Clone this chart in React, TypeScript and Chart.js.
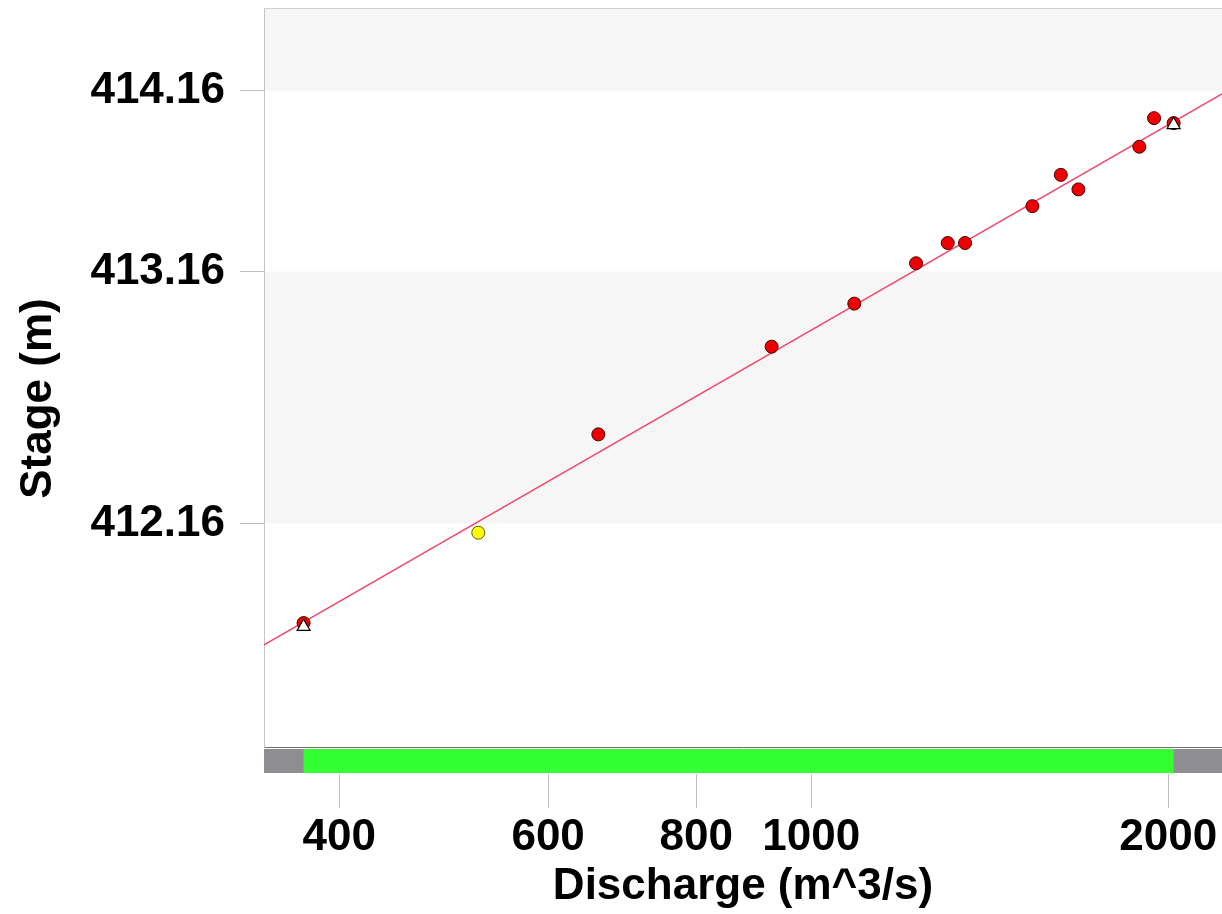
import React, { useEffect, useRef } from 'react';
import { Chart, registerables } from 'chart.js';

Chart.register(...registerables);

// Stage axis is logarithmic in (stage - offset)
const STAGE_OFFSET = 410.06;

const OBS_DISCHARGE = [373.2, 661.4, 926.0, 1087.2, 1225.7, 1303.5, 1348.0, 1536.3, 1623.5, 1679.9, 1890.9, 1945.6, 2021.0];
const OBS_STAGE = [411.86, 412.47, 412.82, 413.01, 413.2, 413.3, 413.3, 413.49, 413.66, 413.58, 413.82, 413.99, 413.96];

const OUTLIER_DISCHARGE = [523.9];
const OUTLIER_STAGE = [412.13];

const CONTROL_DISCHARGE = [373.2, 2021.0];
const CONTROL_STAGE = [411.85, 413.95];

const RATING_DISCHARGE = [345.6, 2220];
const RATING_STAGE = [411.8, 414.14];

const GAUGED_RANGE = [373.2, 2021.0];

const X_TICKS = [400, 600, 800, 1000, 2000];
const Y_TICKS = [412.16, 413.16, 414.16];
const X_RANGE = [345.6, 2220];
const Y_RANGE = [411.546, 414.72];

const FONT_FAMILY = '"Liberation Sans", Arial, Helvetica, sans-serif';

const toPoints = (xs: number[], ys: number[]) =>
  xs.map((q, i) => ({ x: q, y: ys[i] - STAGE_OFFSET }));

const decorPlugin = {
  id: 'decor',
  beforeDraw(chart: any) {
    const { ctx, chartArea: a, scales } = chart;
    const y = scales.y;
    const tickPx = Y_TICKS.map((t) => y.getPixelForValue(t - STAGE_OFFSET)).sort((p, q) => p - q);
    const edges = [a.top, ...tickPx, a.bottom];
    ctx.save();
    ctx.fillStyle = '#ffffff';
    ctx.fillRect(0, 0, chart.width, chart.height);
    ctx.fillStyle = '#f6f6f6';
    for (let i = 0; i < edges.length - 1; i += 2) {
      ctx.fillRect(a.left, edges[i], a.right - a.left, edges[i + 1] - edges[i]);
    }
    ctx.restore();
  },
  afterDraw(chart: any) {
    const { ctx, chartArea: a, scales } = chart;
    const x = scales.x;
    ctx.save();
    // top frame line
    ctx.strokeStyle = '#d0d0d0';
    ctx.lineWidth = 1;
    ctx.beginPath();
    ctx.moveTo(a.left, a.top + 0.5);
    ctx.lineTo(a.right, a.top + 0.5);
    ctx.stroke();

    // range bar
    const barTop = a.bottom + 2;
    const barH = 24;
    const x0 = x.getPixelForValue(GAUGED_RANGE[0]);
    const x1 = x.getPixelForValue(GAUGED_RANGE[1]);
    ctx.fillStyle = '#8d8d92';
    ctx.fillRect(a.left, barTop, a.right - a.left, barH);
    ctx.fillStyle = '#33ff33';
    ctx.fillRect(x0, barTop, x1 - x0, barH);

    // x tick marks below the bar
    ctx.strokeStyle = '#c0c0c0';
    ctx.lineWidth = 1;
    for (const t of X_TICKS) {
      const px = Math.round(x.getPixelForValue(t)) + 0.5;
      ctx.beginPath();
      ctx.moveTo(px, barTop + barH + 1);
      ctx.lineTo(px, a.bottom + 61);
      ctx.stroke();
    }

    // y axis title
    ctx.translate(39, (a.top + a.bottom) / 2 + 21);
    ctx.rotate(-Math.PI / 2);
    ctx.font = `bold 44px ${FONT_FAMILY}`;
    ctx.fillStyle = '#000000';
    ctx.textAlign = 'center';
    ctx.textBaseline = 'middle';
    ctx.fillText('Stage (m)', 0, 0);
    ctx.restore();
  },
};

export default function App() {
  const canvasRef = useRef<HTMLCanvasElement | null>(null);

  useEffect(() => {
    const canvas = canvasRef.current;
    if (!canvas) return;
    const font = { family: FONT_FAMILY, size: 44, weight: 'bold' as const };

    const chart = new Chart(canvas, {
      type: 'scatter',
      data: {
        datasets: [
          {
            label: 'Control points',
            data: toPoints(CONTROL_DISCHARGE, CONTROL_STAGE),
            pointStyle: 'triangle',
            pointRadius: 7.5,
            backgroundColor: '#ffffff',
            borderColor: '#000000',
            borderWidth: 1.2,
            order: 0,
          },
          {
            label: 'Excluded',
            data: toPoints(OUTLIER_DISCHARGE, OUTLIER_STAGE),
            pointRadius: 6.5,
            backgroundColor: '#ffff00',
            borderColor: '#5c5c00',
            borderWidth: 1,
            order: 1,
          },
          {
            label: 'Gaugings',
            data: toPoints(OBS_DISCHARGE, OBS_STAGE),
            pointRadius: 6.5,
            backgroundColor: '#ee0000',
            borderColor: '#4a0000',
            borderWidth: 1,
            order: 2,
          },
          {
            label: 'Rating curve',
            data: toPoints(RATING_DISCHARGE, RATING_STAGE),
            showLine: true,
            pointRadius: 0,
            borderColor: '#f2466b',
            borderWidth: 1.5,
            backgroundColor: '#f2466b',
            order: 3,
          } as any,
        ],
      },
      options: {
        responsive: false,
        animation: false,
        devicePixelRatio: 1,
        layout: { autoPadding: false, padding: { top: 8, left: 0, right: 0, bottom: 0 } },
        plugins: {
          legend: { display: false },
          tooltip: { enabled: false },
        },
        scales: {
          x: {
            type: 'logarithmic',
            position: 'bottom',
            min: X_RANGE[0],
            max: X_RANGE[1],
            afterBuildTicks: (s: any) => {
              s.ticks = X_TICKS.map((v) => ({ value: v }));
            },
            afterFit: (s: any) => {
              s.height = 167;
              s.paddingLeft = 0;
              s.paddingRight = 0;
            },
            grid: { display: false },
            border: { display: true, color: '#6e6e6e', width: 1 },
            ticks: {
              autoSkip: false,
              maxRotation: 0,
              minRotation: 0,
              padding: 56,
              color: '#000000',
              font,
              callback: (v: any) => String(v),
            },
            title: {
              display: true,
              text: 'Discharge (m^3/s)',
              color: '#000000',
              font,
              padding: { top: 0, bottom: 1 },
            },
          },
          y: {
            type: 'logarithmic',
            min: Y_RANGE[0] - STAGE_OFFSET,
            max: Y_RANGE[1] - STAGE_OFFSET,
            afterBuildTicks: (s: any) => {
              s.ticks = Y_TICKS.map((v) => ({ value: v - STAGE_OFFSET }));
            },
            afterFit: (s: any) => {
              s.width = 264;
              s.paddingTop = 0;
              s.paddingBottom = 0;
            },
            grid: {
              drawOnChartArea: false,
              drawTicks: true,
              tickLength: 24,
              tickColor: '#bdbdbd',
              tickWidth: 1,
            },
            border: { display: true, color: '#c4c4c4', width: 1 },
            ticks: {
              autoSkip: false,
              padding: 15,
              color: '#000000',
              font,
              callback: (v: any) => (Number(v) + STAGE_OFFSET).toFixed(2),
            },
            title: { display: false },
          },
        },
      },
      plugins: [decorPlugin],
    } as any);

    return () => {
      chart.destroy();
    };
  }, []);

  return (
    <div
      style={{
        position: 'fixed',
        left: 0,
        top: 0,
        width: 1222,
        height: 914,
        background: '#ffffff',
        overflow: 'hidden',
      }}
    >
      <canvas ref={canvasRef} width={1222} height={914} style={{ display: 'block', width: 1222, height: 914 }} />
    </div>
  );
}
